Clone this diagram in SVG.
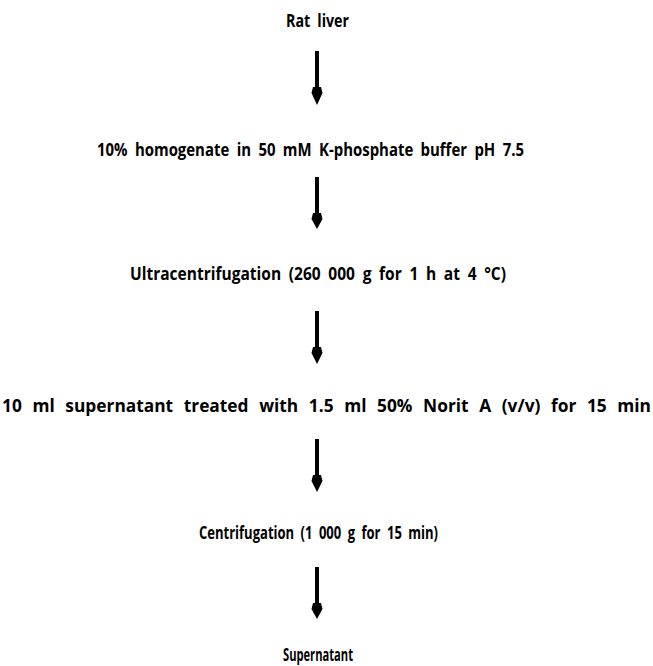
<svg xmlns="http://www.w3.org/2000/svg" width="653" height="666" viewBox="0 0 653 666">
<defs>
<style>
text{font-family:"Open Sans","Liberation Sans",sans-serif;font-weight:700;font-size:17px;fill:#000;word-spacing:4px;}
.wide{word-spacing:6px;}
.shaft{stroke:#000;stroke-width:4;fill:none;}
.head{fill:#000;stroke:none;}
</style>
</defs>
<rect width="653" height="666" fill="#fff"/>
<g id="n1"><text x="317.5" y="27" text-anchor="middle" textLength="63" lengthAdjust="spacingAndGlyphs">Rat liver</text></g>
<g id="n2"><text x="310.5" y="156" text-anchor="middle" textLength="427" lengthAdjust="spacingAndGlyphs">10% homogenate in 50 mM K-phosphate buffer pH 7.5</text></g>
<g id="n3"><text x="318" y="280" text-anchor="middle" textLength="376" lengthAdjust="spacingAndGlyphs">Ultracentrifugation (260 000 g for 1 h at 4 °C)</text></g>
<g id="n4"><text class="wide" x="326.5" y="412" text-anchor="middle" textLength="649" lengthAdjust="spacingAndGlyphs">10 ml supernatant treated with 1.5 ml 50% Norit A (v/v) for 15 min</text></g>
<g id="n5"><text x="318.5" y="539" text-anchor="middle" textLength="239" lengthAdjust="spacingAndGlyphs">Centrifugation (1 000 g for 15 min)</text></g>
<g id="n6"><text x="318" y="661" text-anchor="middle" textLength="70" lengthAdjust="spacingAndGlyphs">Supernatant</text></g>
<g id="connectors">
<g transform="translate(317,51)"><line class="shaft" x1="0" y1="0" x2="0" y2="40"/><path class="head" d="M-4,36 L4,36 L5.5,42 L0,54 L-5.5,42 Z"/></g>
<g transform="translate(317,177)"><line class="shaft" x1="0" y1="0" x2="0" y2="40"/><path class="head" d="M-4,36 L4,36 L5.5,42 L0,52 L-5.5,42 Z"/></g>
<g transform="translate(317,311)"><line class="shaft" x1="0" y1="0" x2="0" y2="40"/><path class="head" d="M-4,36 L4,36 L5.5,42 L0,53 L-5.5,42 Z"/></g>
<g transform="translate(317,439)"><line class="shaft" x1="0" y1="0" x2="0" y2="40"/><path class="head" d="M-4,36 L4,36 L5.5,42 L0,53 L-5.5,42 Z"/></g>
<g transform="translate(317,567)"><line class="shaft" x1="0" y1="0" x2="0" y2="40"/><path class="head" d="M-4,36 L4,36 L5.5,42 L0,52 L-5.5,42 Z"/></g>
</g>
</svg>
